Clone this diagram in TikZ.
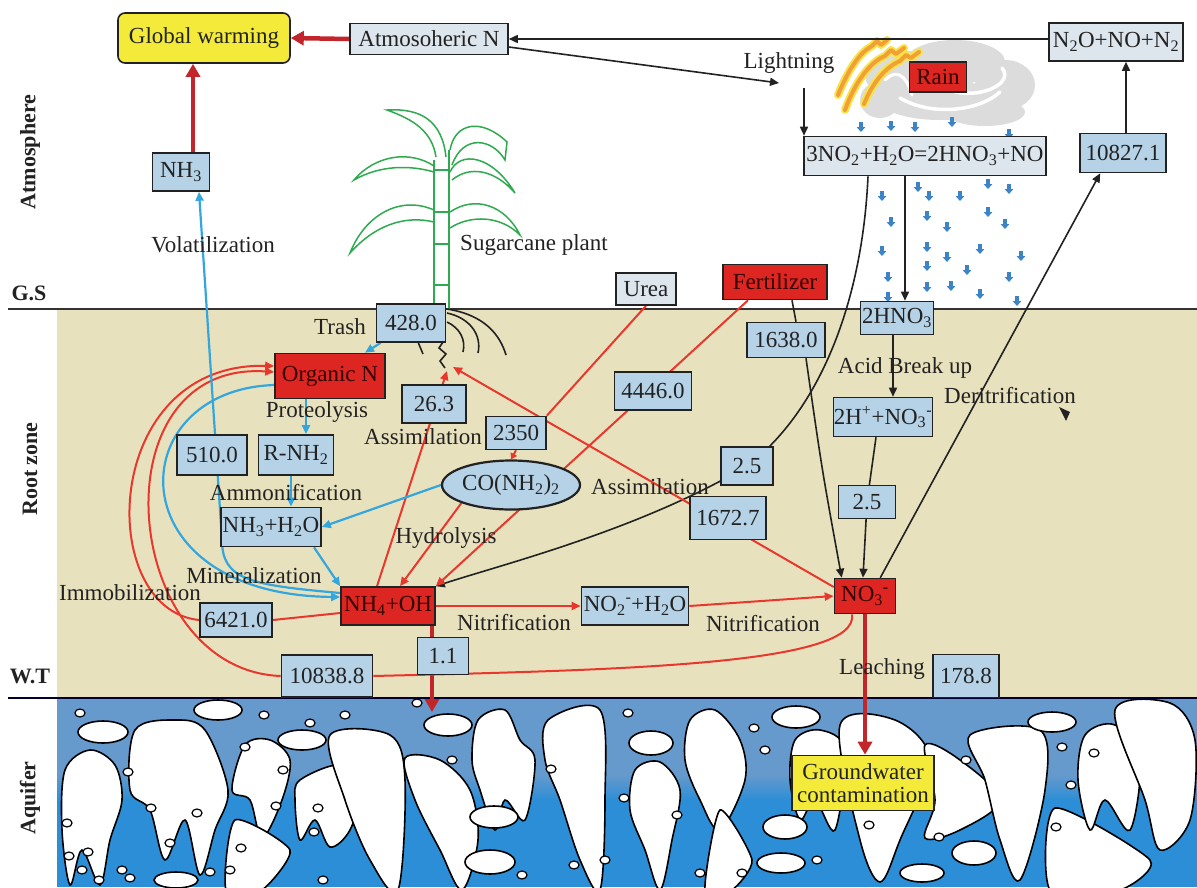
\documentclass[tikz,border=0pt]{standalone}
\usepackage{fontspec}
\setmainfont{Liberation Serif}
\usetikzlibrary{arrows.meta,shapes.geometric,calc}
\pgfdeclarelayer{back}
\pgfdeclarelayer{mid}
\pgfsetlayers{back,mid,main}
\definecolor{valblue}{HTML}{B5D2E6}
\definecolor{lightbox}{HTML}{DDE5ED}
\definecolor{boxred}{HTML}{DD2521}
\definecolor{boxyellow}{HTML}{F3EA3A}
\definecolor{soiltan}{HTML}{E8E1BD}
\definecolor{aqtop}{HTML}{6699CC}
\definecolor{aqbot}{HTML}{2C8ED6}
\definecolor{lnred}{HTML}{E8382D}
\definecolor{thkred}{HTML}{C2262B}
\definecolor{lnblue}{HTML}{33A6DE}
\definecolor{lnblack}{HTML}{222222}
\definecolor{plantgreen}{HTML}{2FAA50}
\definecolor{dropblue}{HTML}{3C84C6}
\definecolor{cloudgray}{HTML}{DCDCDC}
\definecolor{boltorange}{HTML}{F2A035}
\definecolor{boltyellow}{HTML}{F7E34A}
\newcommand\chg[1]{\textsuperscript{#1}}
\begin{document}
\begin{tikzpicture}[x=1pt,y=-1pt,
  font=\fontsize{23}{26}\selectfont,
  nbox/.style={draw=lnblack, line width=1.6pt, inner sep=0pt, text=lnblack, align=center},
  vbox/.style={nbox, fill=valblue},
  lbox/.style={nbox, fill=lightbox},
  rbox/.style={nbox, fill=boxred, text=black!80!red},
  ybox/.style={nbox, fill=boxyellow},
  lbl/.style={text=lnblack, inner sep=0pt},
  zonelbl/.style={font=\fontsize{22}{24}\selectfont\bfseries, text=lnblack, inner sep=0pt},
  redln/.style={draw=lnred, line width=2pt},
  thkln/.style={draw=thkred, line width=4.5pt},
  bluln/.style={draw=lnblue, line width=2.2pt},
  blkln/.style={draw=lnblack, line width=1.6pt},
  arr/.style={-{Triangle[length=9pt,width=8pt]}},
  smallarr/.style={-{Triangle[length=6pt,width=7pt]}},
  bigarr/.style={-{Triangle[length=13pt,width=14pt]}},
  grain/.style={draw=black, line width=1.6pt, fill=white},
  pebble/.style={draw=black, line width=1.2pt, fill=white},
  raindrop/.style={draw=dropblue, line width=4pt, -{Triangle[length=5pt,width=8.5pt]}},
  leafln/.style={draw=plantgreen, line width=1.5pt},
  rootln/.style={draw=lnblack, line width=1.6pt},
]
\useasboundingbox (0,0) rectangle (1197,887);

\begin{pgfonlayer}{back}
  \fill[white] (0,0) rectangle (1197,887);
  \fill[soiltan] (57,310) rectangle (1197,697);
  \fill[aqtop] (57,698) rectangle (1197,775);
  \shade[top color=aqtop, bottom color=aqbot] (57,775) rectangle (1197,800);
  \fill[aqbot] (57,800) rectangle (1197,887);
  % aquifer grains
  \begin{scope}
    \clip (57,699) rectangle (1197,887);
    \draw[grain] plot[smooth cycle, tension=0.55] coordinates {(65,770) (90,750) (115,765) (122,800) (110,840) (100,885) (82,850) (70,885) (62,830)};
    \draw[grain] plot[smooth cycle, tension=0.55] coordinates {(135,730) (175,720) (205,730) (228,790) (215,830) (200,875) (185,820) (165,860) (150,810) (130,790)};
    \draw[grain] plot[smooth cycle, tension=0.55] coordinates {(245,745) (270,740) (290,760) (282,800) (262,838) (250,800) (232,790)};
    \draw[grain] plot[smooth cycle, tension=0.55] coordinates {(300,780) (340,765) (360,790) (350,830) (330,847) (315,820) (300,840) (295,800)};
    \draw[grain] plot[smooth cycle, tension=0.55] coordinates {(330,735) (390,735) (405,780) (398,890) (370,860) (345,800)};
    \draw[grain] plot[smooth cycle, tension=0.55] coordinates {(405,758) (440,760) (470,790) (478,840) (462,890) (440,850) (415,800)};
    \draw[grain] plot[smooth cycle, tension=0.55] coordinates {(478,720) (505,710) (520,740) (535,760) (525,820) (505,800) (495,830) (480,790) (472,760)};
    \draw[grain] plot[smooth cycle, tension=0.55] coordinates {(548,720) (600,710) (605,800) (600,890) (580,860) (560,800) (545,760)};
    \draw[grain] plot[smooth cycle, tension=0.4] coordinates {(235,820) (290,850) (262,890) (226,890)};
    \draw[grain] plot[smooth cycle, tension=0.55] coordinates {(635,770) (660,762) (680,790) (672,840) (660,890) (645,850) (630,810)};
    \draw[grain] plot[smooth cycle, tension=0.55] coordinates {(690,720) (715,710) (740,740) (745,780) (720,830) (700,800) (685,760)};
    \draw[grain] plot[smooth cycle, tension=0.4] coordinates {(720,810) (752,860) (732,890) (705,890)};
    \draw[grain] plot[smooth cycle, tension=0.55] coordinates {(795,740) (820,730) (845,750) (835,830) (815,800) (800,820) (790,780)};
    \draw[grain] plot[smooth cycle, tension=0.55] coordinates {(840,725) (895,720) (930,760) (900,840) (880,882) (860,840)};
    \draw[grain] plot[smooth cycle, tension=0.55] coordinates {(925,745) (960,760) (1000,800) (960,830) (925,838) (935,800)};
    \draw[grain] plot[smooth cycle, tension=0.55] coordinates {(970,735) (1040,730) (1045,790) (1020,880) (1000,840) (985,780)};
    \draw[grain] plot[smooth cycle, tension=0.4] coordinates {(1055,808) (1150,860) (1120,890) (1050,890)};
    \draw[grain] plot[smooth cycle, tension=0.55] coordinates {(1085,735) (1115,725) (1140,760) (1130,830) (1105,800) (1090,830) (1078,780)};
    \draw[grain] plot[smooth cycle, tension=0.55] coordinates {(1115,710) (1170,703) (1195,740) (1190,820) (1160,850) (1145,800)};
    \foreach \ex/\ey/\rx/\ry in {218/710/24/10, 103/732/25/11, 302/740/24/10, 448/725/24/11, 494/817/24/11, 490/862/25/12, 176/880/22/8,
        796/717/24/11, 651/743/22/12, 1052/722/24/10, 785/827/22/12, 974/853/22/12, 781/863/24/10, 922/873/22/9}
      \draw[grain] (\ex,\ey) ellipse [x radius=\rx pt, y radius=\ry pt];
    \foreach \ex/\ey in {80/713, 264/715, 310/723, 345/715, 417/703, 245/747, 128/772, 283/770, 452/760, 551/769, 151/808, 197/813,
        276/806, 318/808, 314/832, 170/843, 241/848, 67/823, 88/852, 69/856, 82/870, 99/880, 122/870, 130/878, 210/872, 230/870,
        323/880, 522/875, 574/865, 628/713, 754/728, 765/750, 966/760, 1062/747, 1071/785, 1094/753, 624/798, 677/815, 869/825,
        939/837, 1056/827, 817/860, 742/873, 700/873, 605/860}
      \draw[pebble] (\ex,\ey) ellipse [x radius=5pt, y radius=4pt];
  \end{scope}
  % layer boundaries
  \draw[draw=black!80, line width=2pt] (8,309) -- (1197,309);
  \draw[draw=black!80!blue, line width=2.5pt] (8,698) -- (1197,698);
  % cloud
  \fill[cloudgray] (900,75) ellipse [x radius=35pt, y radius=25pt];
  \fill[cloudgray] (955,62) ellipse [x radius=50pt, y radius=22pt];
  \fill[cloudgray] (1005,85) ellipse [x radius=30pt, y radius=25pt];
  \fill[cloudgray] (940,100) ellipse [x radius=60pt, y radius=20pt];
  \fill[cloudgray] (985,112) ellipse [x radius=40pt, y radius=14pt];
  \fill[cloudgray] (880,100) ellipse [x radius=20pt, y radius=18pt];
  \draw[white, line width=3.5pt, line cap=round] (900,98) .. controls (930,116) and (978,112) .. (1000,92);
  \draw[white, line width=3.5pt, line cap=round] (955,92) .. controls (985,98) and (1014,82) .. (1002,68);
  \draw[white, line width=3pt, line cap=round] (885,80) .. controls (895,70) and (905,72) .. (912,95);
  % lightning bolts
  \foreach \c/\w in {boltyellow/8pt, boltorange/4pt}{
    \draw[\c, line width=\w, line cap=round, line join=round] (838,95) .. controls (848,70) and (860,52) .. (872,46) -- (877,41) -- (881,45) -- (887,40);
    \draw[\c, line width=\w, line cap=round, line join=round] (845,110) .. controls (855,82) and (870,62) .. (885,56) -- (891,50) -- (896,54) -- (904,48);
    \draw[\c, line width=\w, line cap=round, line join=round] (864,104) .. controls (872,84) and (885,67) .. (900,61) -- (906,55) -- (911,58) -- (919,52);
  }
  % rain drops
  \foreach \dx/\dy in {861/122, 891/121, 915/122, 952/117, 1009/129, 882/191, 918/182, 929/191, 960/191, 988/179, 1009/184,
      891/217, 927/211, 947/222, 988/207, 1005/219, 882/246, 927/242, 947/252, 980/244, 1021/251, 927/261, 967/265, 1009/272,
      888/272, 927/282, 951/281, 980/289, 888/292, 1017/296}
    \draw[raindrop] (\dx,\dy) -- ++(0,10);
  % sugarcane plant
  \draw[leafln] (434,160) -- (434,309);
  \draw[leafln] (449,150) -- (449,309);
  \foreach \yy in {170,212,244,285} \draw[leafln] (434,\yy) -- (449,\yy);
  \draw[leafln] (446,157) .. controls (442,120) and (420,108) .. (387,110) .. controls (415,120) and (432,132) .. (436,157);
  \draw[leafln] (450,150) .. controls (455,122) and (482,118) .. (507,142) -- (505,160) .. controls (492,138) and (463,134) .. (452,165);
  \draw[leafln] (434,166) .. controls (410,150) and (375,155) .. (354,180) .. controls (380,165) and (410,165) .. (434,172);
  \draw[leafln] (450,172) .. controls (460,150) and (492,155) .. (515,193) .. controls (495,170) and (470,165) .. (452,180);
  \draw[leafln] (434,210) .. controls (400,195) and (365,215) .. (350,253) .. controls (375,225) and (405,215) .. (434,222);
  \draw[leafln] (450,212) .. controls (475,195) and (505,205) .. (520,235) .. controls (500,215) and (470,215) .. (450,228);
  % roots
  \draw[rootln] (447,313) .. controls (470,318) and (482,335) .. (478,353);
  \draw[rootln] (447,309) .. controls (485,315) and (500,335) .. (506,355);
  \draw[rootln] (447,322) .. controls (460,328) and (466,340) .. (463,352);
  \draw[rootln] (418,342) -- (423,354);
  \draw[rootln] (443,342) -- (439,348) -- (446,354) -- (440,361) -- (445,368);
  % stray arrowhead
  \fill[lnblack] (1059,407) -- (1070,412) -- (1066,421) -- cycle;
\end{pgfonlayer}

% nodes
\node[ybox, rounded corners=7pt, minimum width=172pt, minimum height=50pt] (gw) at (204,38) {Global warming};
\node[lbox, minimum width=158pt, minimum height=31pt] (atm) at (429,39) {Atmosoheric N};
\node[lbox, minimum width=134pt, minimum height=38pt] (n2o) at (1116,42) {N\textsubscript{2}O+NO+N\textsubscript{2}};
\node[rbox, minimum width=57pt, minimum height=30pt] (rain) at (938,77) {Rain};
\node[lbox, minimum width=242pt, minimum height=39pt] (eq) at (925,156) {3NO\textsubscript{2}+H\textsubscript{2}O=2HNO\textsubscript{3}+NO};
\node[vbox, minimum width=86pt, minimum height=39pt] (v10827) at (1123,153) {10827.1};
\node[vbox, minimum width=57pt, minimum height=38pt] (nh3a) at (181,172) {NH\textsubscript{3}};
\node[lbox, minimum width=60pt, minimum height=32pt] (urea) at (646,289) {Urea};
\node[rbox, minimum width=104pt, minimum height=35pt] (fert) at (775,282) {Fertilizer};
\node[vbox, minimum width=69pt, minimum height=38pt] (v428) at (411,323) {428.0};
\node[rbox, minimum width=110pt, minimum height=45pt] (orgN) at (330,376) {Organic N};
\node[vbox, minimum width=64pt, minimum height=38pt] (v263) at (434,404) {26.3};
\node[vbox, minimum width=60pt, minimum height=33pt] (v2350) at (516,433) {2350};
\node[vbox, minimum width=77pt, minimum height=38pt] (v4446) at (653,391) {4446.0};
\node[vbox, minimum width=78pt, minimum height=35pt] (v1638) at (786,340) {1638.0};
\node[vbox, minimum width=73pt, minimum height=33pt] (hno3) at (897,318) {2HNO\textsubscript{3}};
\node[vbox, minimum width=99pt, minimum height=39pt] (h2no3) at (883,417) {2H\chg{+}+NO\textsubscript{3}\chg{-}};
\node[vbox, minimum width=70pt, minimum height=40pt] (v510) at (212,455) {510.0};
\node[vbox, minimum width=75pt, minimum height=40pt] (rnh2) at (296,455) {R-NH\textsubscript{2}};
\node[ellipse, draw=lnblack, line width=2.2pt, fill=valblue, text=lnblack, minimum width=129pt, minimum height=49pt, inner sep=0pt] (co) at (511,485) {CO(NH\textsubscript{2})\textsubscript{2}};
\node[vbox, minimum width=52pt, minimum height=38pt] (v25a) at (747,466) {2.5};
\node[vbox, minimum width=76pt, minimum height=43pt] (v16727) at (728,518) {1672.7};
\node[vbox, minimum width=57pt, minimum height=33pt] (v25b) at (867,502) {2.5};
\node[vbox, minimum width=100pt, minimum height=39pt] (nh3h2o) at (271,527) {NH\textsubscript{3}+H\textsubscript{2}O};
\node[rbox, minimum width=94pt, minimum height=38pt] (nh4) at (388,606) {NH\textsubscript{4}+OH};
\node[vbox, minimum width=72pt, minimum height=34pt] (v6421) at (236,620) {6421.0};
\node[vbox, minimum width=107pt, minimum height=38pt] (no2) at (635,606) {NO\textsubscript{2}\chg{-}+H\textsubscript{2}O};
\node[rbox, minimum width=61pt, minimum height=35pt] (no3) at (865,596) {NO\textsubscript{3}\chg{-}};
\node[vbox, minimum width=51pt, minimum height=37pt] (v11) at (443,656) {1.1};
\node[vbox, minimum width=91pt, minimum height=42pt] (v10838) at (327,676) {10838.8};
\node[vbox, minimum width=66pt, minimum height=43pt] (v1788) at (966,676) {178.8};
\node[ybox, minimum width=142pt, minimum height=55pt, font=\fontsize{23}{23}\selectfont] (gwc) at (863,783) {Groundwater\\contamination};

% text labels
\node[lbl] (tLight) at (789,63) {Lightning};
\node[lbl] (tVol) at (213,245) {Volatilization};
\node[lbl] (tSug) at (534,245) {Sugarcane plant};
\node[lbl] (tTrash) at (340,327) {Trash};
\node[lbl] (tProt) at (317,412) {Proteolysis};
\node[lbl] (tAss1) at (423,437) {Assimilation};
\node[lbl] (tAmm) at (286,493) {Ammonification};
\node[lbl] (tHyd) at (446,538) {Hydrolysis};
\node[lbl] (tMin) at (254,576) {Mineralization};
\node[lbl] (tImm) at (130,593) {Immobilization};
\node[lbl] (tNit1) at (514,623) {Nitrification};
\node[lbl] (tNit2) at (763,624) {Nitrification};
\node[lbl] (tAss2) at (650,487) {Assimilation};
\node[lbl] (tAcid) at (905,368) {Acid Break up};
\node[lbl] (tDen) at (1010,396) {Deritrification};
\node[lbl] (tLeach) at (882,669) {Leaching};

\node[zonelbl, rotate=90] (zAtm) at (30,152) {Atmosphere};
\node[zonelbl] (zGS) at (29,293) {G.S};
\node[zonelbl, rotate=90] (zRoot) at (30,469) {Root zone};
\node[zonelbl] (zWT) at (30,676) {W.T};
\node[zonelbl, rotate=90] (zAq) at (30,798) {Aquifer};

\coordinate (lt) at (779,83);
\coordinate (lt2) at (804,88);
\coordinate (rootA) at (447,371);
\coordinate (rootB) at (453,367);
\coordinate (aq1) at (432,712);

\begin{pgfonlayer}{mid}
  % thick red
  \draw[thkln, bigarr] (atm.west) -- (gw.east);
  \draw[thkln, bigarr] ([xshift=12pt]nh3a.north) -- ([xshift=12pt]nh3a.north |- gw.south);
  \draw[thkln, bigarr] ([xshift=44pt]nh4.south) -- (aq1);
  \draw[thkln, bigarr] (no3.south) -- (no3.south |- gwc.north);
  % black
  \draw[blkln, arr] (n2o.west |- atm.east) -- (atm.east);
  \draw[blkln, arr] ([yshift=-8pt]atm.east) -- (lt);
  \draw[blkln, arr] (lt2) -- (lt2 |- eq.north);
  \draw[blkln, arr] ([xshift=3pt]v10827.north) -- ([xshift=3pt]v10827.north |- n2o.south);
  \draw[blkln, arr] ([xshift=-16pt]no3.north east) -- ([xshift=21pt]v10827.south west);
  \draw[blkln, arr] ([xshift=-20pt]eq.south) -- ([xshift=8pt]hno3.north);
  \draw[blkln, arr] ([xshift=-4pt]hno3.south) -- ([xshift=10pt]h2no3.north);
  \draw[blkln, arr] ([xshift=-7pt]h2no3.south) -- (v25b.center) -- ([xshift=-2pt]no3.north);
  \draw[blkln] ([xshift=17pt]fert.south) -- ([xshift=10pt]v1638.north);
  \draw[blkln, arr] ([xshift=20pt]v1638.south) .. controls (822,470) .. ([xshift=8pt]no3.north west);
  \draw[blkln, arr] ([xshift=-57pt]eq.south) .. controls (862,310) and (815,415) .. (v25a.center) .. controls (640,530) and (500,565) .. (nh4.north east);
  % red
  \draw[redln] (urea.south) -- (v2350.north east);
  \draw[redln, smallarr] (v2350.south) -- (co.north);
  \draw[redln, arr] ([xshift=-27pt]fert.south) -- (nh4.north east);
  \draw[redln, arr] ([xshift=-11pt]nh4.north) -- (rootA);
  \draw[redln, arr] (co.200) -- ([xshift=12pt]nh4.north);
  \draw[redln, arr] ([yshift=9pt]no3.west) -- (rootB);
  \draw[redln, arr] (nh4.east) -- (no2.west);
  \draw[redln, arr] (no2.east) -- (no3.west);
  \draw[redln] ([yshift=-7pt]nh4.west) -- (v6421.east);
  \draw[redln, arr] (v6421.west) .. controls (95,610) and (100,362) .. ([yshift=10pt]orgN.west);
  \draw[redln] ([xshift=-13pt]no3.south) .. controls (860,665) and (620,670) .. (v10838.east);
  \draw[redln, arr] (v10838.west) .. controls (120,670) and (95,360) .. ([yshift=4pt]orgN.west);
  % blue
  \draw[bluln, arr] ([xshift=5pt]v428.south west) -- ([xshift=35pt]orgN.north);
  \draw[bluln, arr] ([xshift=-24pt]orgN.south) -- ([xshift=10pt]rnh2.north);
  \draw[bluln, arr] ([xshift=-5pt]rnh2.south) -- ([xshift=20pt]nh3h2o.north);
  \draw[bluln, arr] ([xshift=43pt]nh3h2o.south) -- (nh4.north west);
  \draw[bluln, arr] (co.west) -- (nh3h2o.east);
  \draw[bluln, arr] ([yshift=-9pt]orgN.west) .. controls (120,390) and (115,595) .. ([yshift=9pt]nh4.west);
  \draw[bluln, arr] ([yshift=13pt]nh4.west) .. controls (250,585) and (222,580) .. (222,540) -- ([xshift=18pt]nh3a.south);
\end{pgfonlayer}
\end{tikzpicture}
\end{document}
